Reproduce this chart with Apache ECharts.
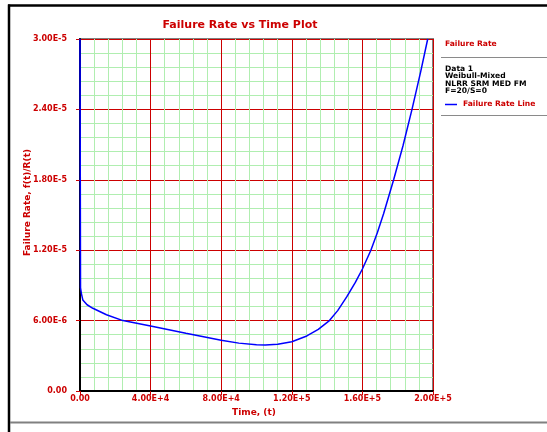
<!DOCTYPE html>
<html>
<head>
<meta charset="utf-8">
<script src="https://cdn.jsdelivr.net/npm/echarts@6/dist/echarts.min.js"></script>
<style>
html,body{margin:0;padding:0;background:#fff;}
#chart{width:547px;height:432px;}
</style>
</head>
<body>
<div id="chart"></div>
<script>
// ---- data ----
const timeValues = [0, 300, 800, 1600, 4000, 7300, 15000, 24300, 40000, 60000, 80000, 90000, 100000, 105000, 112000, 120000, 128500, 135000, 141300, 146000, 151200, 156000, 160000, 164800, 168500, 172000, 177700, 183000, 188100, 193000, 197000];
const failureRates = [3.0e-5, 8.8e-6, 8.3e-6, 7.76e-6, 7.35e-6, 7.05e-6, 6.5e-6, 6.0e-6, 5.54e-6, 4.92e-6, 4.32e-6, 4.08e-6, 3.94e-6, 3.92e-6, 3.98e-6, 4.2e-6, 4.69e-6, 5.25e-6, 6.0e-6, 6.85e-6, 8.04e-6, 9.25e-6, 1.04e-5, 1.2e-5, 1.35e-5, 1.51e-5, 1.8e-5, 2.09e-5, 2.4e-5, 2.72e-5, 3.0e-5];

const xTickLabels = ['0.00', '4.00E+4', '8.00E+4', '1.20E+5', '1.60E+5', '2.00E+5'];
const yTickLabels = ['0.00', '6.00E-6', '1.20E-5', '1.80E-5', '2.40E-5', '3.00E-5'];

const titleText = 'Failure Rate vs Time Plot';
const xAxisName = 'Time, (t)';
const yAxisName = 'Failure Rate, f(t)/R(t)';
const legendHeader = 'Failure Rate';
const legendInfo = ['Data 1', 'Weibull-Mixed', 'NLRR SRM MED FM', 'F=20/S=0'];
const seriesName = 'Failure Rate Line';

const X_MAX = 200000, X_STEP = 40000;
const Y_MAX = 3.0e-5, Y_STEP = 6.0e-6;

const RED = '#cc0000';
const FONT = 'DejaVu Sans';

const chart = echarts.init(document.getElementById('chart'), null, {renderer: 'canvas'});

const data = timeValues.map((t, i) => [t, failureRates[i]]);

const infoYs = [69, 76.3, 83.6, 91];
const graphics = [
  // outer frame
  {type: 'line', shape: {x1: 9, y1: 4.5, x2: 9, y2: 432}, style: {stroke: '#000', lineWidth: 2.5}},
  {type: 'line', shape: {x1: 8, y1: 5.5, x2: 547, y2: 5.5}, style: {stroke: '#000', lineWidth: 2.5}},
  {type: 'line', shape: {x1: 10, y1: 422.5, x2: 547, y2: 422.5}, style: {stroke: '#808080', lineWidth: 2}},
  // title
  {type: 'text', x: 240, y: 25, style: {text: titleText, font: 'bold 11px "' + FONT + '"', fill: RED, align: 'center', verticalAlign: 'middle'}},
  // axis names
  {type: 'text', x: 254, y: 413, style: {text: xAxisName, font: 'bold 9px "' + FONT + '"', fill: RED, align: 'center', verticalAlign: 'middle'}},
  {type: 'text', x: 27.5, y: 202.5, rotation: Math.PI / 2, style: {text: yAxisName, font: 'bold 9px "' + FONT + '"', fill: RED, align: 'center', verticalAlign: 'middle'}},
  // legend block
  {type: 'text', x: 445, y: 44, style: {text: legendHeader, font: 'bold 7.6px "' + FONT + '"', fill: RED, align: 'left', verticalAlign: 'middle'}},
  {type: 'line', shape: {x1: 441, y1: 57.5, x2: 547, y2: 57.5}, style: {stroke: '#8a8a8a', lineWidth: 1}},
  {type: 'line', shape: {x1: 445, y1: 104.5, x2: 457, y2: 104.5}, style: {stroke: '#0000ff', lineWidth: 1.5}},
  {type: 'text', x: 463, y: 104, style: {text: seriesName, font: 'bold 7.6px "' + FONT + '"', fill: RED, align: 'left', verticalAlign: 'middle'}},
  {type: 'line', shape: {x1: 441, y1: 115.5, x2: 547, y2: 115.5}, style: {stroke: '#8a8a8a', lineWidth: 1}}
];
legendInfo.forEach((txt, i) => {
  graphics.push({type: 'text', x: 445, y: infoYs[i], style: {text: txt, font: 'bold 7.6px "' + FONT + '"', fill: '#000', align: 'left', verticalAlign: 'middle'}});
});

chart.setOption({
  backgroundColor: '#fff',
  animation: false,
  grid: {
    left: 80, right: 114, top: 39, bottom: 41,
    containLabel: false, outerBoundsMode: 'none',
    show: true, backgroundColor: '#fff', borderColor: '#808080', borderWidth: 2
  },
  xAxis: {
    type: 'value', min: 0, max: X_MAX, interval: X_STEP,
    axisLine: {show: true, onZero: false, lineStyle: {color: '#000', width: 2}},
    axisTick: {show: true, length: 4, lineStyle: {color: RED, width: 1}},
    axisLabel: {
      margin: 4, color: RED, fontFamily: FONT, fontWeight: 'bold', fontSize: 8,
      formatter: v => xTickLabels[Math.round(v / X_STEP)]
    },
    splitLine: {show: true, lineStyle: {color: RED, width: 1}},
    minorTick: {show: false, splitNumber: 5},
    minorSplitLine: {show: true, lineStyle: {color: '#b0eeb0', width: 1}}
  },
  yAxis: {
    type: 'value', min: 0, max: Y_MAX, interval: Y_STEP,
    axisLine: {show: true, onZero: false, lineStyle: {color: '#000', width: 2}},
    axisTick: {show: true, length: 4, lineStyle: {color: RED, width: 1}},
    axisLabel: {
      margin: 13, color: RED, fontFamily: FONT, fontWeight: 'bold', fontSize: 8,
      formatter: v => yTickLabels[Math.round(v / Y_STEP)]
    },
    splitLine: {show: true, lineStyle: {color: RED, width: 1}},
    minorTick: {show: false, splitNumber: 5},
    minorSplitLine: {show: true, lineStyle: {color: '#b0eeb0', width: 1}}
  },
  series: [{
    name: seriesName,
    type: 'line',
    data: data,
    showSymbol: false,
    smooth: false,
    clip: true,
    lineStyle: {color: '#0000ff', width: 1.5},
    itemStyle: {color: '#0000ff'},
    z: 5
  }],
  graphic: graphics
});
</script>
</body>
</html>
